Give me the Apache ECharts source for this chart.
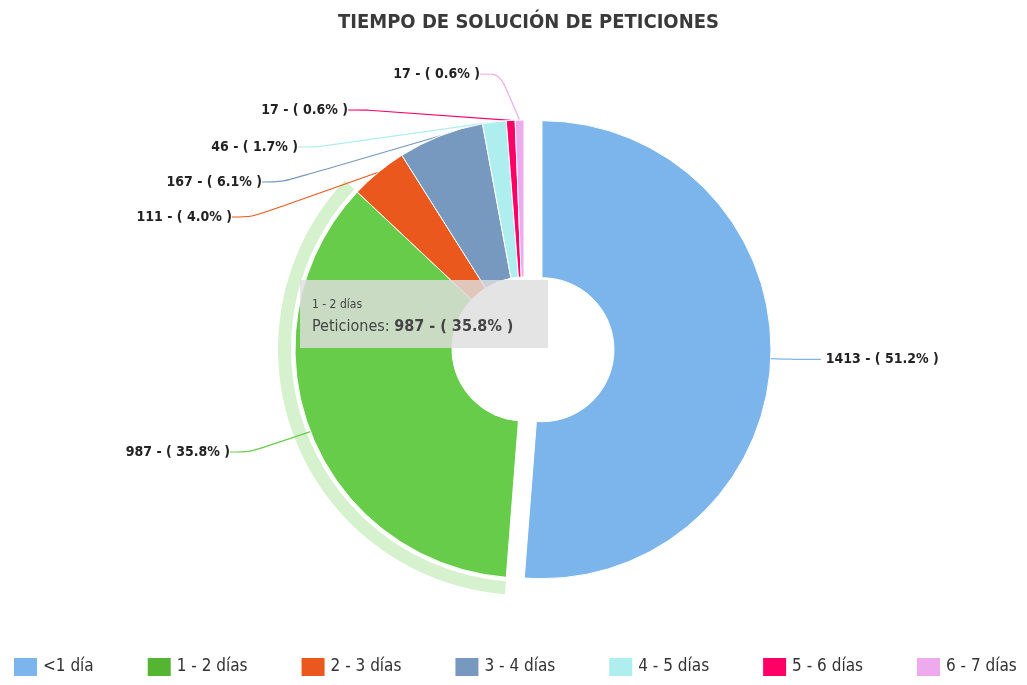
<!DOCTYPE html>
<html>
<head>
<meta charset="utf-8">
<script src="https://cdn.jsdelivr.net/npm/echarts@6/dist/echarts.min.js"></script>
<style>
html,body{margin:0;padding:0;background:#fff;}
#main{width:1027px;height:685px;}
</style>
</head>
<body>
<div id="main"></div>
<script>
// datos de la grafica
var categorias = ['<1 día', '1 - 2 días', '2 - 3 días', '3 - 4 días', '4 - 5 días', '5 - 6 días', '6 - 7 días'];
var peticiones = [1413, 987, 111, 167, 46, 17, 17];
var coloresLeyenda = ['#7cb5ec', '#55b532', '#ea581d', '#7798bf', '#aeeeee', '#ff0066', '#eeaaee'];
var coloresPie = ['#7cb5ec', '#68cc4b', '#ea581d', '#7798bf', '#aeeeee', '#ff0066', '#eeaaee'];

var fuente = '"DejaVu Sans Condensed", "Liberation Sans Narrow", Roboto, sans-serif';

// donde va cada etiqueta (estilo highcharts); la del segmento separado la deja echarts
var posEtiquetas = [
	null,
	{ x: 230, y: 452 },
	{ x: 232, y: 217 },
	{ x: 262, y: 182 },
	{ x: 298, y: 147 },
	{ x: 348, y: 110 },
	{ x: 480, y: 74 }
];

var total = peticiones.reduce(function (a, b) { return a + b; }, 0);
function pct(v) { return (v / total * 100).toFixed(1); }

var datos = categorias.map(function (c, i) {
	var d = {
		name: c,
		value: peticiones[i],
		selected: i == 0,
		itemStyle: { color: coloresPie[i] }
	};
	if (i == 0) d.labelLine = { length: 20, length2: 30 };
	return d;
});

// halo del segmento activo
var halo = categorias.map(function (c, i) {
	return {
		name: c,
		value: peticiones[i],
		itemStyle: { color: i == 1 ? 'rgba(104,204,75,0.28)' : 'rgba(0,0,0,0)' }
	};
});

var chart = echarts.init(document.getElementById('main'));
var option = {
	animation: false,
	title: {
		text: 'TIEMPO DE SOLUCIÓN DE PETICIONES',
		left: 333,
		top: 8,
		textStyle: { fontFamily: fuente, fontSize: 20, fontWeight: 'bold', color: '#3a3a3a' }
	},
	tooltip: {
		trigger: 'item',
		transitionDuration: 0,
		alwaysShowContent: true,
		backgroundColor: 'rgba(222,222,222,0.82)',
		borderWidth: 0,
		padding: [14, 12, 4, 12],
		extraCssText: 'box-shadow:none;border-radius:0;',
		position: function () { return [300, 280]; },
		formatter: function (p) {
			return '<div style="font-family:' + fuente.replace(/"/g, "'") + ';color:#444;width:224px;height:50px">' +
				'<div style="font-size:12px;line-height:20px">' + p.name + '</div>' +
				'<div style="font-size:16px;line-height:24px">Peticiones: <b>' + p.value + ' - ( ' + pct(p.value) + '% )</b></div></div>';
		}
	},
	legend: {
		bottom: 2,
		left: 7,
		itemWidth: 25,
		itemHeight: 20,
		itemGap: 52,
		icon: 'rect',
		textStyle: { fontFamily: fuente, fontSize: 17, color: '#333' },
		data: categorias.map(function (c, i) {
			return { name: c, itemStyle: { color: coloresLeyenda[i] } };
		})
	},
	series: [
		{
			name: 'Peticiones',
			type: 'pie',
			z: 2,
			center: [524, 349],
			radius: [72, 229],
			startAngle: 90,
			selectedMode: 'multiple',
			selectedOffset: 18,
			itemStyle: { borderColor: '#fff', borderWidth: 1 },
			emphasis: { scale: false },
			label: {
				formatter: function (p) { return p.value + ' - ( ' + pct(p.value) + '% )'; },
				fontFamily: fuente,
				fontSize: 14,
				fontWeight: 'bold',
				color: '#222'
			},
			labelLine: { length: 20, length2: 20, smooth: 0.3, lineStyle: { width: 1.2 } },
			labelLayout: function (p) {
				var e = posEtiquetas[p.dataIndex];
				if (!e) return {};
				return { x: e.x, y: e.y, align: 'right', verticalAlign: 'middle' };
			},
			data: datos
		},
		{
			type: 'pie',
			silent: true,
			z: 1,
			center: [524, 349],
			radius: [233, 246],
			startAngle: 90,
			label: { show: false },
			labelLine: { show: false },
			tooltip: { show: false },
			data: halo
		}
	]
};
chart.setOption(option);
chart.dispatchAction({ type: 'showTip', seriesIndex: 0, dataIndex: 1 });
</script>
</body>
</html>
